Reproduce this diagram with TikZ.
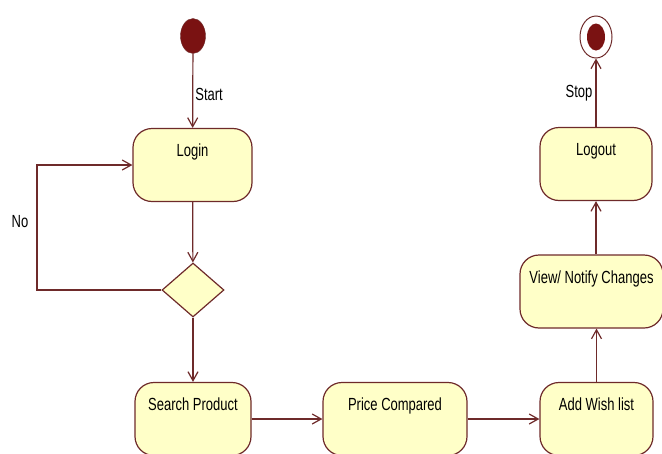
\documentclass[tikz,border=0pt]{standalone}
\usepackage{fontspec}
\setmainfont{Liberation Sans}
\usetikzlibrary{shapes.geometric}
\usetikzlibrary{arrows.meta}
\newcommand{\lbl}[1]{\scalebox{1}[1.35]{#1}}
\definecolor{actline}{HTML}{6E2A2A}
\definecolor{actfill}{HTML}{FFFFC8}
\definecolor{dotred}{HTML}{7A1212}
\tikzset{act/.style={
  draw=actline, fill=actfill, line width=1.2pt,
  rounded corners=19pt, inner sep=0pt,
  text height=28pt, text depth=45pt
}}
\tikzset{choice/.style={
  diamond, draw=actline, fill=actfill, line width=1.2pt,
  minimum width=62pt, minimum height=54pt, inner sep=0pt
}}
\tikzset{flow/.style={
  draw=actline, line width=1.2pt,
  -{Straight Barb[length=9pt,width=10pt]}
}}

\begin{document}
\begin{tikzpicture}[x=1pt,y=-1pt,font=\fontsize{13}{15}\selectfont]
    \useasboundingbox (0,0) rectangle (662,453);
    % start and end
    \node[ellipse,draw=actline,fill=dotred,minimum width=25pt,minimum height=35pt,inner sep=0pt] (start) at (193,36) {};
    \node[ellipse,draw=actline,fill=white,line width=1pt,minimum width=32pt,minimum height=42pt,inner sep=0pt] (stop) at (596,37) {};
    \node[ellipse,fill=dotred,minimum width=18pt,minimum height=27pt,inner sep=0pt] (stopdot) at (stop) {};
    % activities
    \node[act,minimum width=119pt] (login) at (192.5,165) {\lbl{Login}};
    \node[choice] (dec) at (193,290) {};
    \node[act,minimum width=116pt] (search) at (193,419) {\lbl{Search Product}};
    \node[act,minimum width=144pt] (price) at (395,419) {\lbl{Price Compared}};
    \node[act,minimum width=113pt] (wish) at (596.5,419) {\lbl{Add Wish list}};
    \node[act,minimum width=143pt] (view) at (591.5,291.5) {\lbl{View/ Notify Changes}};
    \node[act,minimum width=112pt] (logout) at (596,164) {\lbl{Logout}};
    \coordinate (back) at (37,290);
    % flows
    \draw[flow] (start) -- (login) node[pos=0.55,right,inner sep=2pt] {\lbl{Start}};
    \draw[flow] (login) -- (dec);
    \draw[flow] (dec.west) -- (back) |- (login.west);
    \node (no) at (20,222) {\lbl{No}};
    \draw[flow] (dec) -- (search);
    \draw[flow] (search) -- (price);
    \draw[flow] (price) -- (wish);
    \draw[flow] (wish) -- (wish |- view.south);
    \draw[flow] (logout |- view.north) -- (logout);
    \draw[flow] (logout) -- (stop) node[pos=0.5,left,inner sep=3pt] {\lbl{Stop}};
\end{tikzpicture}
\end{document}
